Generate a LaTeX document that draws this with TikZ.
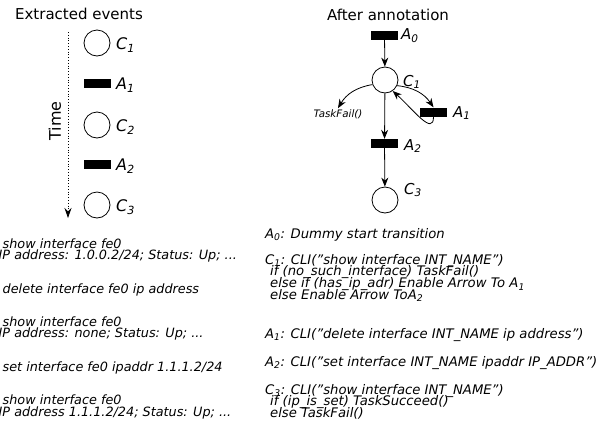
\documentclass[tikz,border=0pt]{standalone}
\usepackage{fontspec}
\setmainfont{DejaVu Sans}
\usetikzlibrary{arrows.meta}
\def\tsub#1{\textsubscript{#1}}
\def\dq{\symbol{34}}
\def\codefont{\itshape\fontsize{12.8}{11.7}\selectfont\lineskiplimit=-20pt}
\def\notefont{\itshape\fontsize{13.2}{11.7}\selectfont\lineskiplimit=-20pt}
\tikzset{
  place/.style={circle,draw,line width=0.8pt,minimum size=26pt,inner sep=0pt},
  trans/.style={rectangle,fill=black,minimum width=27pt,minimum height=9pt,inner sep=0pt},
  lbl/.style={font=\itshape\fontsize{16}{18}\selectfont,anchor=west,inner sep=0pt},
  rlbl/.style={font=\itshape\fontsize{15}{18}\selectfont,anchor=west,inner sep=0pt},
  head/.style={font=\fontsize{15}{18}\selectfont,inner sep=0pt},
  txt/.style={font=\codefont,align=left,anchor=base west,inner sep=0pt},
  note/.style={font=\notefont,align=left,anchor=base west,inner sep=0pt},
  arc/.style={-{Stealth[length=9pt,width=7pt]},line width=0.8pt},
}

\begin{document}
\begin{tikzpicture}[x=1pt,y=-1pt]
\useasboundingbox (0,0) rectangle (607,432);

% extracted events
\node[head] (evt) at (79,14) {Extracted events};
\node[place] (e1) at (97,43) {};
\node[trans] (e2) at (97.5,83.5) {};
\node[place] (e3) at (97,125) {};
\node[trans] (e4) at (97.5,164.5) {};
\node[place] (e5) at (97,205) {};
\node[lbl] (le1) at (116,45) {C\tsub{1}};
\node[lbl] (le2) at (116,85) {A\tsub{1}};
\node[lbl] (le3) at (116,127) {C\tsub{2}};
\node[lbl] (le4) at (116,166) {A\tsub{2}};
\node[lbl] (le5) at (116,207) {C\tsub{3}};
\coordinate (t0) at (68,32);
\coordinate (t1) at (68,218);
\draw[dotted,line width=0.8pt,-{Stealth[length=10pt,width=7pt]}] (t0) -- (t1);
\node[head,rotate=90,font=\fontsize{16}{18}\selectfont] (time) at (55,121) {Time};

% after annotation
\node[head] (ann) at (388,15) {After annotation};
\node[trans] (a0) at (384.5,35) {};
\node[place] (c1) at (385,80) {};
\node[trans] (a1) at (433.5,112) {};
\node[trans] (a2) at (384.5,143.5) {};
\node[place] (c3) at (385,200) {};
\node[rlbl] (la0) at (401,36) {A\tsub{0}};
\node[rlbl] (lc1) at (403,82) {C\tsub{1}};
\node[rlbl] (la1) at (453,113) {A\tsub{1}};
\node[rlbl] (la2) at (404,146) {A\tsub{2}};
\node[rlbl] (lc3) at (404,190) {C\tsub{3}};
\node[font=\itshape\fontsize{10.3}{12}\selectfont,inner sep=1pt] (tf) at (338,114) {TaskFail()};

\draw[arc] (a0) -- (c1);
\draw[arc] (c1) -- (a2);
\draw[arc] (a2) -- (c3);
\draw[arc] (c1.200) to[bend right=25] (tf.north);
\draw[arc] (c1.-25) to[bend left=25] (a1.north);
\draw[arc] (a1.south) .. controls +(0,20) and +(20,18) .. (c1.-55);

% commands (base = last line)
\node[txt] (s1) at (-1.5,259.7) {\hspace*{4pt}show interface fe0\\IP address: 1.0.0.2/24; Status: Up; ...};
\node[txt] (s2) at (-1.5,293) {\hspace*{4pt}delete interface fe0 ip address};
\node[txt] (s3) at (-1.5,337.7) {\hspace*{4pt}show interface fe0\\IP address: none; Status: Up; ...};
\node[txt] (s4) at (-1.5,371) {\hspace*{4pt}set interface fe0 ipaddr 1.1.1.2/24};
\node[txt] (s5) at (-1.5,416.2) {\hspace*{4pt}show interface fe0\\IP address 1.1.1.2/24; Status: Up; ...};

% annotations
\node[note] (n0) at (265,238) {A\tsub{0}: Dummy start transition};
\node[note] (n1) at (265,299.1) {C\tsub{1}: CLI(\dq show interface INT\_NAME\dq)\\
  \hspace*{5pt}if (no\_such\_interface) TaskFail()\\
  \hspace*{5pt}else if (has\_ip\_adr) Enable Arrow To A\tsub{1}\\
  \hspace*{5pt}else Enable Arrow ToA\tsub{2}};
\node[note] (n2) at (265,338) {A\tsub{1}: CLI(\dq delete interface INT\_NAME ip address\dq)};
\node[note] (n3) at (265,366) {A\tsub{2}: CLI(\dq set interface INT\_NAME ipaddr IP\_ADDR\dq)};
\node[note] (n4) at (265,417.4) {C\tsub{3}: CLI(\dq show interface INT\_NAME\dq)\\
  \hspace*{5pt}if (ip\_is\_set) TaskSucceed()\\
  \hspace*{5pt}else TaskFail()};
\end{tikzpicture}
\end{document}
